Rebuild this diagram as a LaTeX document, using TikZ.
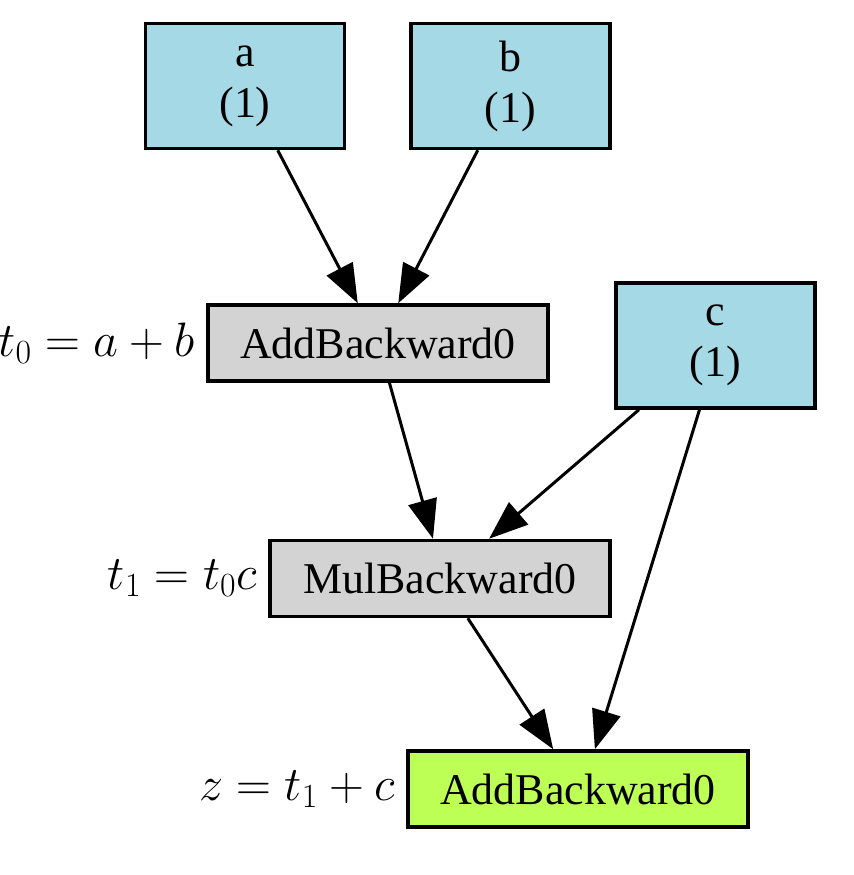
\RequirePackage{fix-cm}
\documentclass[tikz,border=0pt]{standalone}
\usepackage[no-math]{fontspec}
\setmainfont{Liberation Serif}
\usetikzlibrary{positioning,arrows.meta}
\definecolor{parblue}{RGB}{165,217,230}
\definecolor{opgray}{RGB}{211,211,211}
\definecolor{outgreen}{RGB}{190,255,85}
\tikzset{
    tensor/.style={draw,line width=2pt,fill=parblue,minimum width=3.98cm,minimum height=2.5cm,align=center,font=\fontsize{25}{29}\selectfont},
    op/.style={draw,line width=2pt,fill=opgray,minimum width=6.8cm,minimum height=1.52cm,font=\fontsize{25}{29}\selectfont},
    eq/.style={inner sep=0pt,font=\fontsize{27.5}{30}\selectfont},
    edge/.style={line width=1.7pt,-{Triangle[length=0.78cm,width=0.58cm]}},
}

\begin{document}
\begin{tikzpicture}[x=0.02cm,y=-0.02cm]
    \useasboundingbox (0,0) rectangle (853,875);
    % leaf tensors
    \node[tensor] (a) at (245,86) {a\\(1)};
    \node[tensor] (b) at (510.5,86) {b\\(1)};
    \node[tensor] (c) at (715.5,345.5) {c\\(1)};
    % grad functions
    \node[op] (add0) at (378,343) {AddBackward0};
    \node[op] (mul) at (440,578.5) {MulBackward0};
    \node[op,fill=outgreen] (out) at (578,789) {AddBackward0};
    % equations
    \node[eq,left=0.22cm of add0] (eqt0) {$t_0 = a + b$};
    \node[eq,left=0.22cm of mul] (eqt1) {$t_1 = t_0 c$};
    \node[eq,left=0.22cm of out] (eqz) {$z = t_1 + c$};
    % edges
    \draw[edge] (a.-63) -- (add0.117);
    \draw[edge] (b.-117) -- (add0.63);
    \draw[edge] (add0.-74) -- (mul.100);
    \draw[edge] (c.-140) -- (mul.39);
    \draw[edge] (c.-104) -- (out.67);
    \draw[edge] (mul.-55) -- (out.122);
\end{tikzpicture}
\end{document}
